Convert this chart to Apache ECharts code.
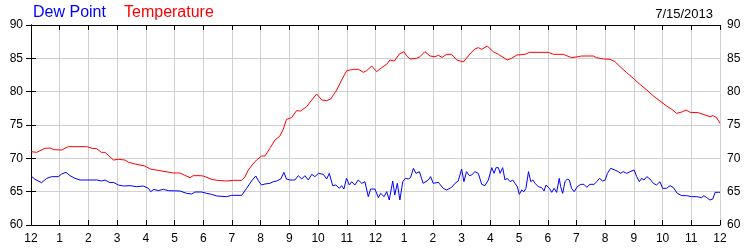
<!DOCTYPE html>
<html>
<head>
<meta charset="utf-8">
<script src="https://cdn.jsdelivr.net/npm/echarts@6/dist/echarts.min.js"></script>
<style>html,body{margin:0;padding:0;background:#fff}#c{width:750px;height:250px}</style>
</head>
<body>
<div id="c"></div>
<script>
var tempHours = [0,0.2,0.49,0.66,0.8,1.07,1.3,1.94,2.13,2.29,2.45,2.58,2.87,3.05,3.27,3.4,3.62,3.97,4.15,4.49,4.96,5.19,5.36,5.54,5.65,5.89,6.0,6.29,6.47,6.81,7.05,7.34,7.45,7.57,7.7,7.86,8.03,8.15,8.32,8.5,8.67,8.79,8.9,9.08,9.25,9.39,9.6,9.78,9.95,10.13,10.3,10.44,10.65,10.82,11.0,11.24,11.41,11.58,11.69,11.87,12.04,12.21,12.39,12.5,12.66,12.83,12.99,13.09,13.2,13.43,13.55,13.72,13.9,14.07,14.19,14.32,14.48,14.65,14.83,15.06,15.29,15.46,15.58,15.7,15.89,16.1,16.28,16.34,16.59,16.74,16.92,17.21,17.36,18.02,18.2,18.54,18.83,19.06,19.18,19.59,19.7,19.94,20.17,20.34,20.52,20.75,20.98,21.21,21.45,21.68,21.91,22.14,22.32,22.49,22.67,22.82,22.96,23.24,23.48,23.65,23.76,23.88,24.0];
var tempValues = [71.0,70.9,71.5,71.55,71.3,71.25,71.75,71.75,71.5,71.45,70.9,70.9,69.75,69.85,69.75,69.4,69.15,68.85,68.4,68.15,67.8,67.8,67.45,67.1,67.4,67.4,67.35,66.85,66.7,66.6,66.7,66.7,67.2,68.25,69.0,69.75,70.35,70.35,71.5,72.75,73.35,74.4,75.85,76.1,77.15,77.1,77.75,78.75,79.65,78.75,78.65,78.9,80.25,81.75,83.15,83.35,83.35,82.9,83.15,83.85,83.0,83.6,84.1,84.75,84.6,85.65,86.0,85.35,84.9,85.0,85.25,86.0,85.35,85.25,85.45,85.15,85.6,85.6,84.75,84.45,85.65,86.4,86.6,86.35,86.85,86.0,85.6,85.65,84.75,85.0,85.5,85.6,85.9,85.9,85.6,85.6,85.1,85.25,85.35,85.35,85.1,84.9,84.85,84.5,83.75,82.85,82.0,81.1,80.25,79.35,78.6,77.85,77.35,76.75,76.95,77.25,76.9,76.85,76.5,76.25,76.4,76.1,75.25];

var dewHours = [0,0.14,0.37,0.55,0.72,0.95,1.07,1.22,1.36,1.53,1.71,2.29,2.46,2.58,2.75,2.87,3.04,3.22,3.45,3.68,3.91,4.09,4.17,4.28,4.43,4.61,4.78,5.19,5.42,5.6,5.71,5.94,6.12,6.29,6.47,6.82,6.99,7.34,7.51,7.69,7.83,7.92,8.03,8.15,8.32,8.44,8.56,8.70,8.81,8.90,9.02,9.19,9.31,9.43,9.54,9.66,9.78,9.89,10.01,10.18,10.30,10.39,10.51,10.62,10.74,10.82,10.90,10.99,11.09,11.17,11.28,11.40,11.52,11.63,11.75,11.83,11.98,12.10,12.18,12.30,12.39,12.48,12.60,12.67,12.76,12.85,12.95,13.04,13.14,13.22,13.32,13.41,13.53,13.66,13.84,13.92,14.01,14.19,14.36,14.48,14.65,14.77,14.88,15.0,15.08,15.17,15.27,15.35,15.46,15.58,15.70,15.81,15.93,16.05,16.13,16.2,16.28,16.34,16.43,16.51,16.59,16.69,16.78,16.86,16.94,17.01,17.09,17.17,17.24,17.33,17.41,17.48,17.56,17.67,17.79,17.87,17.94,18.06,18.14,18.22,18.31,18.4,18.45,18.52,18.6,18.68,18.75,18.83,18.92,19.03,19.15,19.26,19.36,19.47,19.61,19.71,19.8,19.91,20.0,20.08,20.19,20.34,20.46,20.54,20.63,20.75,20.87,21.01,21.1,21.19,21.27,21.35,21.45,21.56,21.68,21.79,21.91,22.0,22.14,22.26,22.38,22.51,22.67,22.84,23.01,23.19,23.36,23.44,23.54,23.65,23.75,23.83,23.95,24.0];
var dewValues = [67.35,66.85,66.35,67.0,67.25,67.25,67.65,67.9,67.4,67.0,66.75,66.75,66.6,66.75,66.35,66.4,66.0,65.85,65.9,65.75,65.85,65.5,65.0,65.35,65.15,65.35,65.15,65.1,64.75,64.65,64.95,64.95,64.75,64.6,64.35,64.25,64.45,64.45,65.5,66.65,67.35,66.65,66.0,66.15,66.25,66.5,66.6,66.9,67.9,66.9,66.75,66.75,67.4,66.9,67.4,66.75,67.6,67.25,67.75,67.6,66.9,67.75,65.9,66.0,65.5,65.9,65.4,67.0,66.0,66.5,66.0,66.75,66.25,66.5,64.25,65.4,65.4,64.1,64.75,64.25,65.0,63.75,66.6,64.5,66.25,63.75,66.5,67.0,66.9,67.1,68.5,67.75,68.0,66.25,66.75,67.25,66.25,66.4,65.5,65.25,65.65,66.25,66.6,68.4,66.5,68.0,67.4,67.5,68.0,67.75,66.1,65.9,66.75,68.6,67.75,68.6,68.6,67.75,68.6,66.75,67.0,66.5,66.75,66.25,65.75,64.6,65.25,65.0,65.5,68.0,66.5,66.75,66.25,65.75,65.6,65.1,66.0,65.5,64.9,65.5,64.9,67.0,65.75,64.75,66.5,66.9,66.75,65.5,65.0,65.75,66.1,66.1,65.65,66.1,66.1,66.5,67.0,66.6,66.75,67.75,68.5,68.25,68.0,67.75,68.0,67.75,68.0,68.25,67.25,66.5,67.0,66.75,67.25,66.9,66.25,66.0,66.5,65.5,65.5,65.9,65.6,64.75,64.4,64.4,64.25,64.25,64.1,64.4,64.1,63.75,63.9,64.9,64.9,64.9];

var yMin = 60, yMax = 90, yStep = 5;
var legendNames = ['Dew Point', 'Temperature'];
var dateLabel = '7/15/2013';

function pairs(xs, ys) { return xs.map(function (x, i) { return [x, ys[i]]; }); }
function hourLabel(v) { var h = Math.round(v) % 12; return String(h === 0 ? 12 : h); }

var font = "'Liberation Sans', Arial, sans-serif";
var chart = echarts.init(document.getElementById('c'), null, { renderer: 'canvas' });
var axisLine = { show: true, lineStyle: { color: '#000', width: 1 } };
var tick = { show: true, inside: true, length: 5, lineStyle: { color: '#000' } };
chart.setOption({
  animation: false,
  backgroundColor: '#fff',
  title: [{
    left: 28, top: 0,
    text: legendNames[0],
    textStyle: { color: '#0000ff', fontWeight: 'normal', fontSize: 16, fontFamily: font }
  }, {
    left: 119, top: 0,
    text: legendNames[1],
    textStyle: { color: '#ff0000', fontWeight: 'normal', fontSize: 16, fontFamily: font }
  }, {
    right: 32, top: 3,
    text: dateLabel,
    textStyle: { color: '#000', fontSize: 13, fontWeight: 'normal', fontFamily: font }
  }],
  grid: { left: 31, right: 30, top: 25, bottom: 25, containLabel: false },
  xAxis: [{
    type: 'value', min: 0, max: 24, interval: 1, position: 'bottom',
    axisLine: axisLine, axisTick: tick,
    axisLabel: { formatter: hourLabel, color: '#000', fontSize: 12, fontFamily: font, margin: 8 },
    splitLine: { show: true, lineStyle: { color: '#d0d0d0', width: 1 } }
  }, {
    type: 'value', min: 0, max: 24, interval: 1, position: 'top',
    axisLine: axisLine, axisTick: tick, axisLabel: { show: false }, splitLine: { show: false }
  }],
  yAxis: [{
    type: 'value', min: yMin, max: yMax, interval: yStep, position: 'left',
    axisLine: axisLine, axisTick: tick,
    axisLabel: { color: '#000', fontSize: 12, fontFamily: font, margin: 8 },
    splitLine: { show: true, lineStyle: { color: '#d0d0d0', width: 1 } }
  }, {
    type: 'value', min: yMin, max: yMax, interval: yStep, position: 'right',
    axisLine: axisLine, axisTick: tick,
    axisLabel: { color: '#000', fontSize: 12, fontFamily: font, margin: 7 },
    splitLine: { show: false }
  }],
  series: [{
    name: legendNames[1], type: 'line', xAxisIndex: 0, yAxisIndex: 0,
    data: pairs(tempHours, tempValues), showSymbol: false, symbol: 'none',
    lineStyle: { color: '#ff0000', width: 1 }, z: 3
  }, {
    name: legendNames[0], type: 'line', xAxisIndex: 0, yAxisIndex: 0,
    data: pairs(dewHours, dewValues), showSymbol: false, symbol: 'none',
    lineStyle: { color: '#0000ff', width: 1 }, z: 3
  }]
});
</script>
</body>
</html>
